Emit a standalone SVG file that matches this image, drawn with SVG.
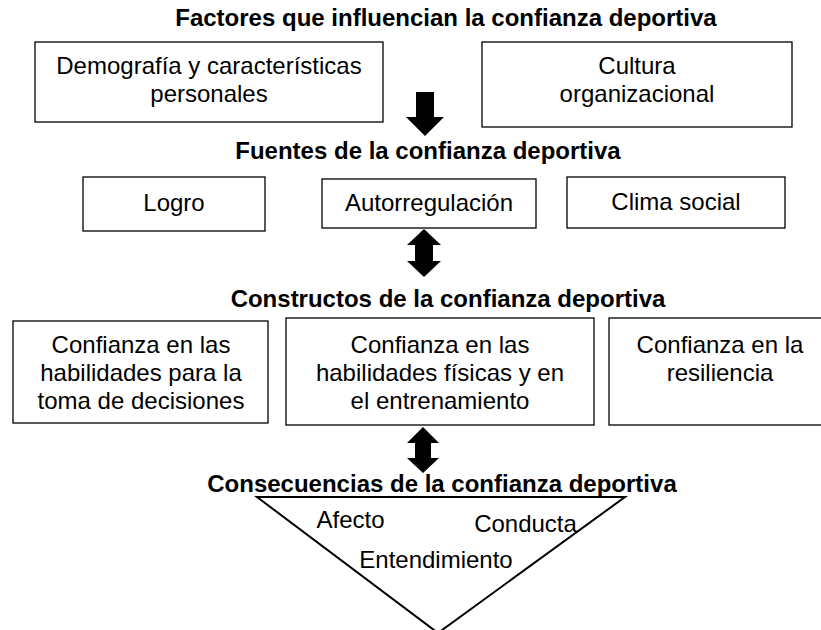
<svg xmlns="http://www.w3.org/2000/svg" width="821" height="630" viewBox="0 0 821 630">
<style>
.t{font-family:"Liberation Sans",Arial,sans-serif;font-size:24px;fill:#000;text-anchor:middle}
.h{font-weight:bold}
.b{fill:#fff;stroke:#000;stroke-width:1.3}
.ar{fill:#000;stroke:none}
</style>
<rect width="821" height="630" fill="#fff"/>
<g id="title-factores"><text class="t h" x="446" y="26">Factores que influencian la confianza deportiva</text></g>
<g id="node-demografia">
<rect class="b" x="35" y="42" width="348" height="80"/>
<text class="t" x="209" y="74">Demografía y características</text>
<text class="t" x="209" y="101.5">personales</text>
</g>
<g id="node-cultura">
<rect class="b" x="482" y="42" width="310" height="85"/>
<text class="t" x="637" y="74">Cultura</text>
<text class="t" x="637" y="101.5">organizacional</text>
</g>
<g id="title-fuentes"><text class="t h" x="428" y="159">Fuentes de la confianza deportiva</text></g>
<g id="node-logro">
<rect class="b" x="83" y="177" width="182" height="54"/>
<text class="t" x="174" y="211">Logro</text>
</g>
<g id="node-autorregulacion">
<rect class="b" x="322" y="179" width="214" height="49"/>
<text class="t" x="429" y="211">Autorregulación</text>
</g>
<g id="node-clima">
<rect class="b" x="567" y="177" width="218" height="51"/>
<text class="t" x="676" y="210">Clima social</text>
</g>
<g id="title-constructos"><text class="t h" x="448" y="307">Constructos de la confianza deportiva</text></g>
<g id="node-decisiones">
<rect class="b" x="13" y="321" width="255" height="102"/>
<text class="t" x="141" y="353">Confianza en las</text>
<text class="t" x="141" y="381">habilidades para la</text>
<text class="t" x="141" y="409">toma de decisiones</text>
</g>
<g id="node-fisicas">
<rect class="b" x="286" y="318" width="308" height="107"/>
<text class="t" x="440" y="353">Confianza en las</text>
<text class="t" x="440" y="381">habilidades físicas y en</text>
<text class="t" x="440" y="409">el entrenamiento</text>
</g>
<g id="node-resiliencia">
<rect class="b" x="609" y="318" width="225" height="107"/>
<text class="t" x="720" y="353">Confianza en la</text>
<text class="t" x="720" y="381">resiliencia</text>
</g>
<g id="title-consecuencias"><text class="t h" x="442" y="492">Consecuencias de la confianza deportiva</text></g>
<g id="node-consecuencias">
<polygon points="257,497 625,497 438,633" fill="none" stroke="#000" stroke-width="2"/>
<text class="t" x="350.5" y="528">Afecto</text>
<text class="t" x="525.5" y="532">Conducta</text>
<text class="t" x="436" y="568">Entendimiento</text>
</g>
<g id="connectors">
<polygon class="ar" points="416,92 434,92 434,117 444,117 425,136 406,117 416,117"/>
<polygon class="ar" points="424,229 441,245 433,245 433,261 441,261 424,277 407,261 415,261 415,245 407,245"/>
<polygon class="ar" points="423,427 439,443 431,443 431,458 439,458 423,473 407,458 415,458 415,443 407,443"/>
</g>
</svg>
